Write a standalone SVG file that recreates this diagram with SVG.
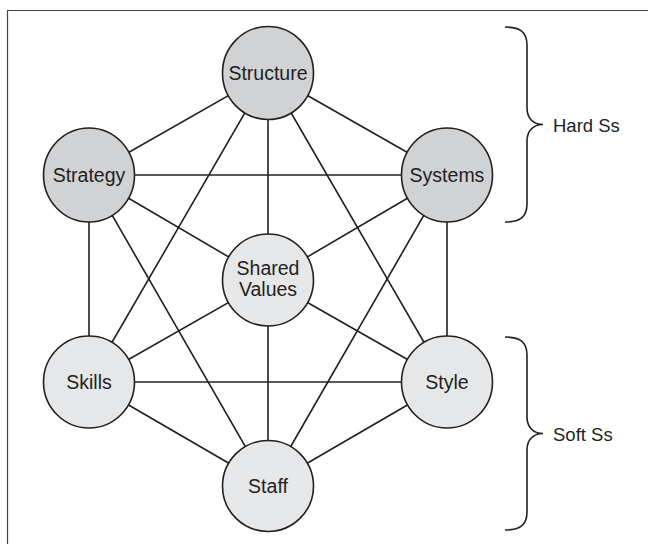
<svg xmlns="http://www.w3.org/2000/svg" width="648" height="544" viewBox="0 0 648 544">
<style>
.frame{fill:none;stroke:#444;stroke-width:1.2}
.edge{stroke:#231f20;stroke-width:1.6;fill:none}
.node{stroke:#231f20;stroke-width:1.6}
.hard{fill:#d1d2d4}
.soft{fill:#e6e7e8}
.lbl{font-family:"Liberation Sans",Arial,sans-serif;font-size:19.5px;fill:#231f20;text-anchor:middle}
.side{font-family:"Liberation Sans",Arial,sans-serif;font-size:18.5px;fill:#231f20}
.brace{fill:none;stroke:#231f20;stroke-width:1.6}
</style>
<rect width="648" height="544" fill="#fff"/>
<path class="frame" d="M7.5,544 V10.5 H648"/>
<g id="connectors">
<!-- Structure -->
<line class="edge" x1="268" y1="73" x2="89" y2="175"/>
<line class="edge" x1="268" y1="73" x2="447" y2="175"/>
<line class="edge" x1="268" y1="73" x2="268" y2="280"/>
<line class="edge" x1="268" y1="73" x2="89" y2="382"/>
<line class="edge" x1="268" y1="73" x2="447" y2="382"/>
<!-- Strategy -->
<line class="edge" x1="89" y1="175" x2="447" y2="175"/>
<line class="edge" x1="89" y1="175" x2="268" y2="280"/>
<line class="edge" x1="89" y1="175" x2="89" y2="382"/>
<line class="edge" x1="89" y1="175" x2="268" y2="486"/>
<!-- Systems -->
<line class="edge" x1="447" y1="175" x2="268" y2="280"/>
<line class="edge" x1="447" y1="175" x2="447" y2="382"/>
<line class="edge" x1="447" y1="175" x2="268" y2="486"/>
<!-- Shared Values -->
<line class="edge" x1="268" y1="280" x2="89" y2="382"/>
<line class="edge" x1="268" y1="280" x2="447" y2="382"/>
<line class="edge" x1="268" y1="280" x2="268" y2="486"/>
<!-- Skills / Style / Staff -->
<line class="edge" x1="89" y1="382" x2="447" y2="382"/>
<line class="edge" x1="89" y1="382" x2="268" y2="486"/>
<line class="edge" x1="447" y1="382" x2="268" y2="486"/>
</g>
<g id="structure">
<ellipse class="node hard" cx="268" cy="73" rx="45.5" ry="46.5"/>
<text class="lbl" x="268" y="80">Structure</text>
</g>
<g id="strategy">
<ellipse class="node hard" cx="89" cy="175" rx="45.5" ry="47"/>
<text class="lbl" x="89" y="182">Strategy</text>
</g>
<g id="systems">
<ellipse class="node hard" cx="447" cy="175" rx="45.5" ry="47"/>
<text class="lbl" x="447" y="182">Systems</text>
</g>
<g id="shared-values">
<ellipse class="node soft" cx="268" cy="280" rx="45.5" ry="46"/>
<text class="lbl" x="268" y="275">Shared</text>
<text class="lbl" x="268" y="296">Values</text>
</g>
<g id="skills">
<ellipse class="node soft" cx="89" cy="382" rx="45.5" ry="46"/>
<text class="lbl" x="89" y="389">Skills</text>
</g>
<g id="style">
<ellipse class="node soft" cx="447" cy="382" rx="45.5" ry="46"/>
<text class="lbl" x="447" y="389">Style</text>
</g>
<g id="staff">
<ellipse class="node soft" cx="268" cy="486" rx="45.5" ry="45.5"/>
<text class="lbl" x="268" y="492.5">Staff</text>
</g>
<g id="hard-ss">
<path class="brace" d="M505,27 C520,27 527,32 527,45 L527,108 C527,118 533,124.5 543,124.5 C533,124.5 527,131 527,141 L527,204 C527,217 520,222 505,222"/>
<text class="side" x="553" y="131.5">Hard Ss</text>
</g>
<g id="soft-ss">
<path class="brace" d="M505,337 C520,337 527,342 527,355 L527,417 C527,427 533,433.5 543,433.5 C533,433.5 527,440 527,450 L527,512 C527,525 520,530 505,530"/>
<text class="side" x="553" y="440.5">Soft Ss</text>
</g>
</svg>
